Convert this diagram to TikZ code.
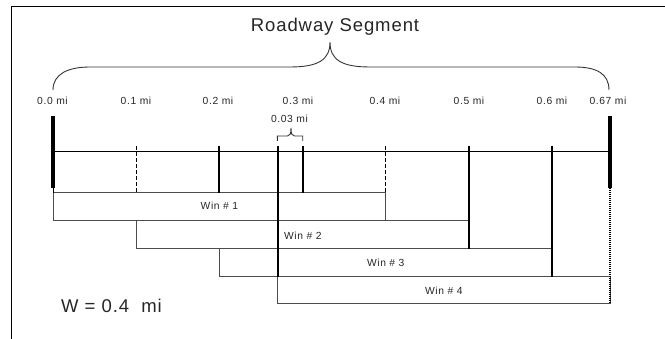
\documentclass[tikz,border=0pt]{standalone}
\usepackage{fontspec}
\setmainfont{Liberation Sans}
\usetikzlibrary{positioning}

\begin{document}
\begin{tikzpicture}[
    x=1pt, y=-1pt,
    every node/.style={inner sep=0pt, text=black!85},
    ticklbl/.style={anchor=base, font=\fontsize{10.3}{11}\selectfont\addfontfeature{LetterSpace=6}},
    bigtext/.style={anchor=base, font=\fontsize{18.5}{20}\selectfont\addfontfeature{LetterSpace=5}},
    tick/.style={line width=2pt},
    endtick/.style={line width=3.5pt},
    guide/.style={line width=0.8pt, dash pattern=on 4pt off 2pt},
    win/.style={draw=black!70, line width=1pt},
    brace/.style={line width=0.9pt, black!80}
]
    \useasboundingbox (0,0) rectangle (665,339);

    % frame
    \draw[line width=1pt] (11,339) -- (11,7) -- (665,7);

    % levels
    \coordinate (yend) at (0,116);
    \coordinate (ytk) at (0,146);
    \coordinate (ythk) at (0,188);
    \coordinate (yA) at (0,193);
    \coordinate (yB) at (0,221);
    \coordinate (yC) at (0,249);
    \coordinate (yD) at (0,277);
    \coordinate (yE) at (0,304);

    % milepoints on the roadway line
    \foreach \n/\x in {0/53, 1/136.7, 2/219.3, 27/277.7, 3/302.6, 4/385.8, 5/469, 6/552.2, 67/610}
        \coordinate (t\n) at (\x,152);

    % windows
    \draw[win] (t0|-yA) rectangle (t4|-yB);
    \draw[win] (t1|-yB) rectangle (t5|-yC);
    \draw[win] (t2|-yC) rectangle (t6|-yD);
    \draw[win] (t27|-yD) rectangle (t67|-yE);
    \node[ticklbl] (w1) at (219.4,210) {Win \# 1};
    \node[ticklbl] (w2) at (302.8,240) {Win \# 2};
    \node[ticklbl] (w3) at (385.7,266.7) {Win \# 3};
    \node[ticklbl] (w4) at (443.8,295) {Win \# 4};

    % roadway line and ticks
    \draw[line width=1pt] (t0) -- (t67);
    \draw[guide] (t1|-ytk) -- (t1|-yA);
    \draw[guide] (t4|-ytk) -- (t4|-yA);
    \draw[tick] (t2|-ytk) -- (t2|-yA);
    \draw[tick] (t27|-ytk) -- (t27|-yD);
    \draw[tick] (t3|-ytk) -- (t3|-yA);
    \draw[tick] (t5|-ytk) -- (t5|-yC);
    \draw[tick] (t6|-ytk) -- (t6|-yD);
    \draw[endtick] (t0|-yend) -- (t0|-ythk);
    \draw[endtick] (t67|-yend) -- (t67|-ythk);
    \draw[line width=1pt] (t0|-ythk) -- (t0|-yA);
    \draw[line width=1.4pt, dash pattern=on 1pt off 1pt] (t67|-ythk) -- (t67|-yE);

    % milepoint labels
    \foreach \n/\x/\t in {0/52.5/0.0, 1/136/0.1, 2/218/0.2, 3/298/0.3, 4/385/0.4, 5/469/0.5, 6/552/0.6, 67/608/0.67}
        \node[ticklbl] (l\n) at (\x,104.3) {\t\ mi};
    \node[ticklbl] (l03) at (289.5,122.3) {0.03 mi};

    % small brace
    \draw[brace] (277.3,141) -- (277.3,136) -- (287.5,136)
        .. controls (290,136) and (291,134) .. (291,128)
        .. controls (291,134) and (292,136) .. (294.5,136)
        -- (302.7,136) -- (302.7,141);

    % roadway segment brace
    \draw[brace] (53,90) .. controls (53,74) and (68,67) .. (90,67) -- (290,67)
        .. controls (318,67) and (330,60) .. (330,42)
        .. controls (330,60) and (342,67) .. (370,67) -- (575,67)
        .. controls (597,67) and (609,74) .. (609,90);
    \node[bigtext] (seg) at (335,31.7) {Roadway Segment};

    \node[bigtext, anchor=base west] (wlen) at (61,313) {W = 0.4 \ mi};
\end{tikzpicture}
\end{document}
